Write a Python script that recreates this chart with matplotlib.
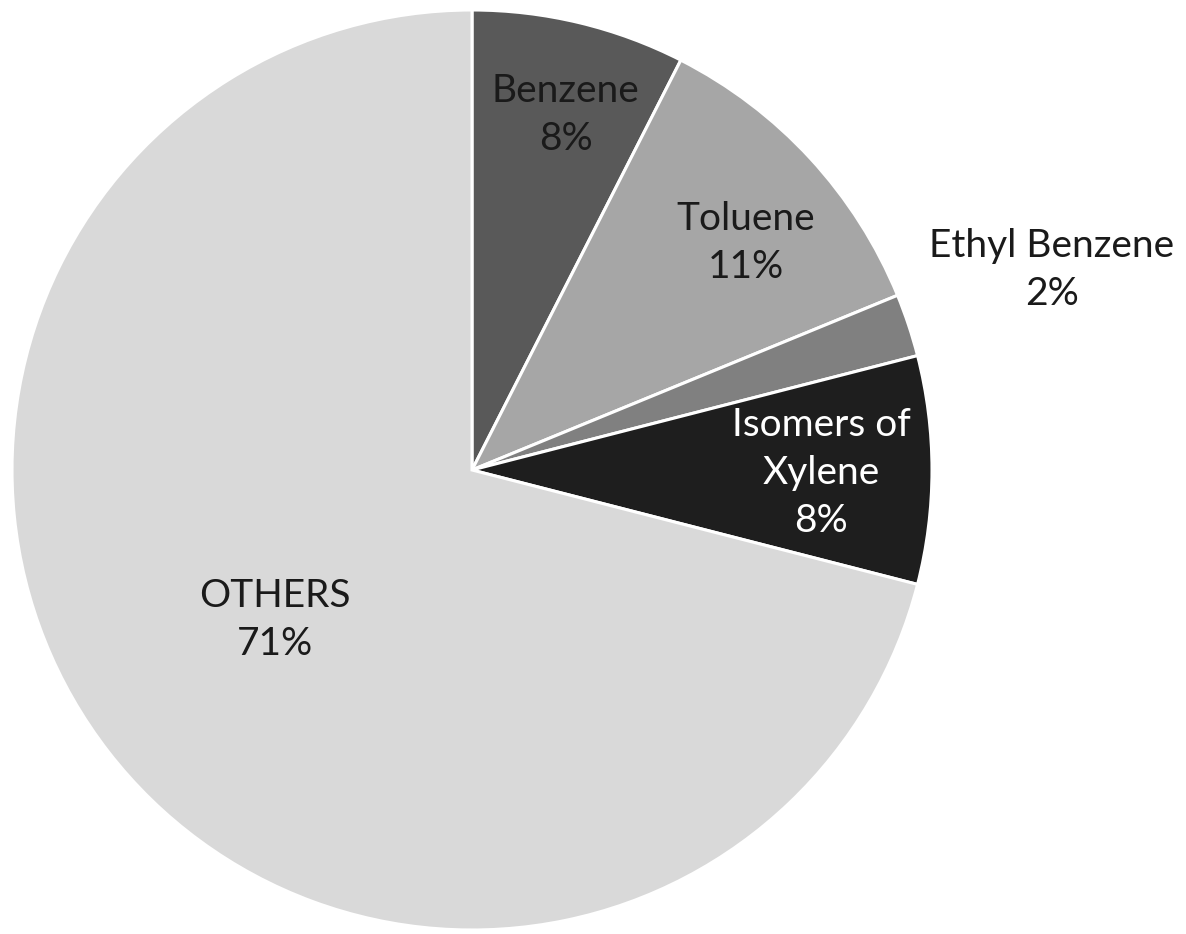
import numpy as np
import matplotlib.pyplot as plt

# composition shares (%)
names = ["Benzene", "Toluene", "Ethyl Benzene", "Isomers of\nXylene", "OTHERS"]
shares = [7.5, 11.3, 2.2, 8.0, 71.0]
shown = ["8%", "11%", "2%", "8%", "71%"]

colors = ["#595959", "#a6a6a6", "#808080", "#1e1e1e", "#d9d9d9"]
text_colors = ["#1a1a1a", "#1a1a1a", "#1a1a1a", "white", "#1a1a1a"]
# label anchor points in pie units (radius = 1)
label_pos = [(0.204, 0.772), (0.596, 0.493), (1.261, 0.435), (0.759, -0.007), (-0.428, -0.326)]

plt.rcParams['font.family'] = ['Lato', 'DejaVu Sans']

fig = plt.figure(figsize=(11.86, 9.34), dpi=100)
ax = fig.add_axes([12/1186, 4/934, 920/1186, 920/934])

ax.pie(shares, colors=colors, startangle=90, counterclock=False,
       wedgeprops=dict(edgecolor="white", linewidth=2.2))

for i in range(len(names)):
	ax.text(label_pos[i][0], label_pos[i][1], names[i] + "\n" + shown[i],
	        ha="center", va="center", fontsize=28, color=text_colors[i],
	        linespacing=1.42)

ax.set_xlim(-1, 1)
ax.set_ylim(-1, 1)
ax.set_aspect("equal")
ax.axis("off")

fig.savefig("out.png", dpi=100)
